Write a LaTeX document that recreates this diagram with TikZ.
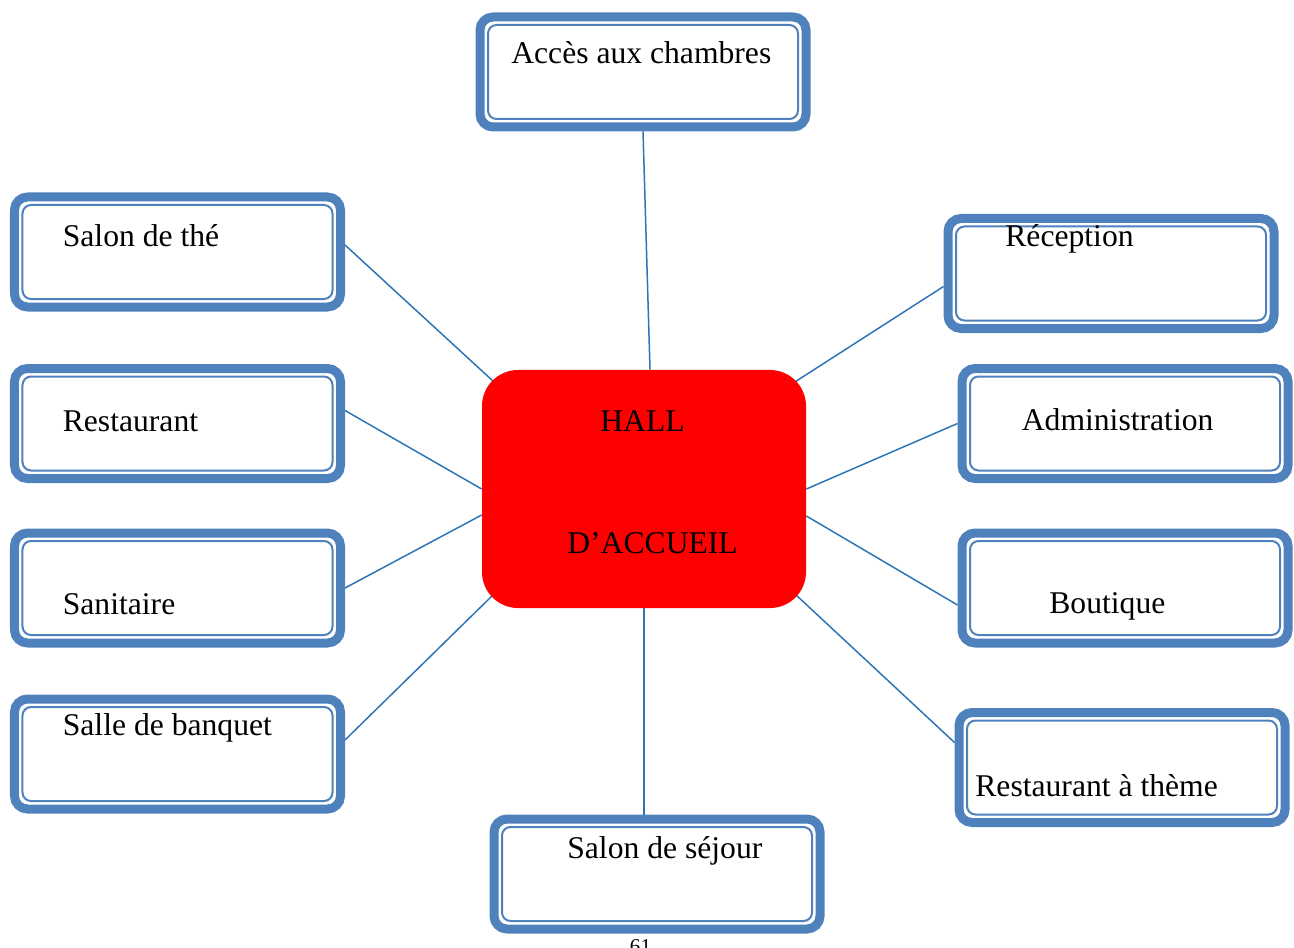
\documentclass[tikz,border=0pt]{standalone}
\usepackage{fontspec}
\setmainfont{Liberation Serif}
\usepackage{tikz}
\usetikzlibrary{backgrounds}

\definecolor{boxblue}{RGB}{79,129,189}
\definecolor{linkblue}{RGB}{46,117,182}

\begin{document}
\begin{tikzpicture}[x=0.2mm, y=-0.2mm,
    roombox/.style={draw=boxblue, fill=white, line width=1.8mm, rounded corners=2.6mm,
        minimum width=65.2mm, minimum height=22mm, inner sep=0pt},
    innerbox/.style={draw=boxblue, line width=0.4mm, rounded corners=1.7mm,
        minimum width=62mm, minimum height=18.8mm, inner sep=0pt},
    hallbox/.style={fill=red, rounded corners=7.2mm, minimum width=64.8mm,
        minimum height=47.6mm, inner sep=0pt},
    boxtext/.style={anchor=base west, inner sep=0pt, font=\fontsize{18}{22}\selectfont},
    link/.style={draw=linkblue, line width=0.3mm}]
    \useasboundingbox (0,0) rectangle (1294,947);

    % central hall
    \node[hallbox] (hall) at (644,489) {};
    \node[boxtext] (hall-a) at (600,431) {HALL};
    \node[boxtext] (hall-b) at (567,553.5) {D’ACCUEIL};

    % rooms around the hall
    \node[roombox] (acces) at (643,72) {};
    \node[roombox] (the) at (177.5,252) {};
    \node[roombox] (resto) at (177.5,423.5) {};
    \node[roombox] (san) at (177.5,588) {};
    \node[roombox] (banquet) at (177.5,754) {};
    \node[roombox] (recep) at (1111,273.5) {};
    \node[roombox] (admin) at (1125,423.5) {};
    \node[roombox] (bout) at (1125,588) {};
    \node[roombox] (theme) at (1122,767.5) {};
    \node[roombox] (sejour) at (657,874) {};

    % inner line of each box
    \foreach \n in {acces,the,resto,san,banquet,recep,admin,bout,theme,sejour}
        \node[innerbox] (\n-in) at (\n.center) {};

    % labels
    \node[boxtext] (acces-t) at (511,63.5) {Accès aux chambres};
    \node[boxtext] (the-t) at (62.5,246.5) {Salon de thé};
    \node[boxtext] (resto-t) at (62.5,431.5) {Restaurant};
    \node[boxtext] (san-t) at (62.5,614) {Sanitaire};
    \node[boxtext] (banquet-t) at (62.5,735) {Salle de banquet};
    \node[boxtext] (recep-t) at (1005,247) {Réception};
    \node[boxtext] (admin-t) at (1021.5,430.5) {Administration};
    \node[boxtext] (bout-t) at (1049,613.5) {Boutique};
    \node[boxtext] (theme-t) at (975,796) {Restaurant à thème};
    \node[boxtext] (sejour-t) at (567,858) {Salon de séjour};

    % page number, cut by the page edge
    \node[anchor=base, inner sep=0pt, font=\fontsize{12}{14}\selectfont] (page) at (640.5,953) {61};

    % end points of the links
    \coordinate (acces-h) at ([shift={(6,0)}]hall.north);
    \coordinate (the-h) at ([shift={(12,12)}]hall.north west);
    \coordinate (resto-h) at (hall.west);
    \coordinate (san-h) at ([shift={(0,26)}]hall.west);
    \coordinate (banquet-h) at ([shift={(13,-15)}]hall.south west);
    \coordinate (recep-h) at ([shift={(-11,12)}]hall.north east);
    \coordinate (admin-h) at (hall.east);
    \coordinate (bout-h) at ([shift={(0,27)}]hall.east);
    \coordinate (theme-h) at ([shift={(-11,-14)}]hall.south east);
    \coordinate (sejour-h) at (hall.south);

    \coordinate (acces-r) at (acces.south);
    \coordinate (the-r) at ([shift={(0,-7)}]the.east);
    \coordinate (resto-r) at ([shift={(0,-13)}]resto.east);
    \coordinate (san-r) at (san.east);
    \coordinate (banquet-r) at ([shift={(0,-14)}]banquet.east);
    \coordinate (recep-r) at ([shift={(0,13)}]recep.west);
    \coordinate (admin-r) at (admin.west);
    \coordinate (bout-r) at ([shift={(0,17)}]bout.west);
    \coordinate (theme-r) at ([shift={(0,-25)}]theme.west);
    \coordinate (sejour-r) at (sejour-h |- sejour.north);

    % links behind the boxes
    \begin{pgfonlayer}{background}
        \foreach \n in {acces,the,resto,san,banquet,recep,admin,bout,theme,sejour}
            \draw[link] (\n-r) -- (\n-h);
    \end{pgfonlayer}
\end{tikzpicture}
\end{document}
